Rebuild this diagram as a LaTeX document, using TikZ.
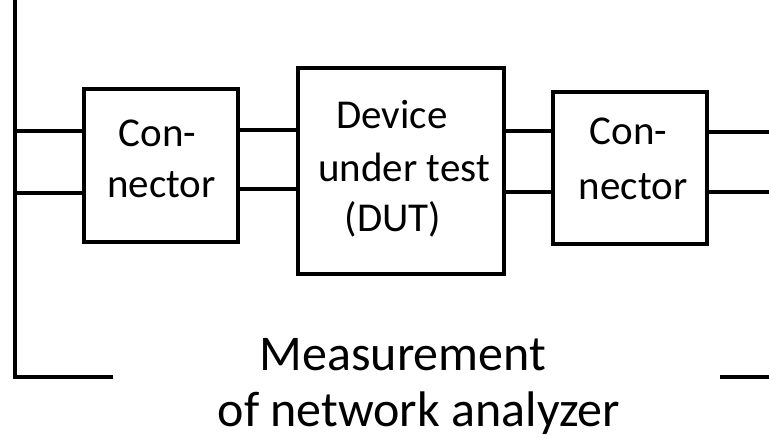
\documentclass[tikz,border=0pt]{standalone}
\usepackage{fontspec}
\setmainfont{Carlito}
\begin{document}
\begin{tikzpicture}[x=1pt,y=-1pt,
  wire/.style={line width=4pt},
  blk/.style={draw,line width=4pt,inner sep=0pt},
  txt/.style={inner sep=0pt,anchor=base,font=\fontsize{41}{52}\selectfont},
  captxt/.style={inner sep=0pt,anchor=base,font=\fontsize{50}{60}\selectfont}]
\useasboundingbox (0,0) rectangle (769,446);
% boxes
\node[blk,minimum width=154pt,minimum height=153pt] (lc) at (161,165.5) {};
\node[blk,minimum width=206pt,minimum height=206pt] (dut) at (401,171) {};
\node[blk,minimum width=154pt,minimum height=152pt] (rc) at (630,168) {};
% box texts
\node[txt] (lc1) at (157.5,147) {Con-};
\node[txt] (lc2) at (161.5,198) {nector};
\node[txt] (d1) at (392,129) {Device};
\node[txt] (d2) at (404,182) {under test};
\node[txt] (d3) at (393,232) {(DUT)};
\node[txt] (rc1) at (628.5,145) {Con-};
\node[txt] (rc2) at (633,200) {nector};
% bus coordinates
\coordinate (bt) at (15,0);
\coordinate (bb) at (15,377);
\coordinate (be) at (113,377);
\coordinate (rs) at (720,377);
\coordinate (re) at (769,377);
\coordinate (o1) at (769,132);
\coordinate (o2) at (769,192);
% left bus
\draw[wire,line join=miter] (bt) -- (bb) -- (be);
\draw[wire] (rs) -- (re);
% wires
\draw[wire] (bt |- 0,131) -- (lc.west |- 0,131);
\draw[wire] (bt |- 0,193) -- (lc.west |- 0,193);
\draw[wire] (lc.east |- 0,130) -- (dut.west |- 0,130);
\draw[wire] (lc.east |- 0,189) -- (dut.west |- 0,189);
\draw[wire] (dut.east |- 0,131) -- (rc.west |- 0,131);
\draw[wire] (dut.east |- 0,192) -- (rc.west |- 0,192);
\draw[wire] (rc.east |- 0,132) -- (o1);
\draw[wire] (rc.east |- 0,192) -- (o2);
% caption
\node[captxt] (m1) at (403,371) {Measurement};
\node[captxt] (m2) at (419,427) {of network analyzer};
\end{tikzpicture}
\end{document}
